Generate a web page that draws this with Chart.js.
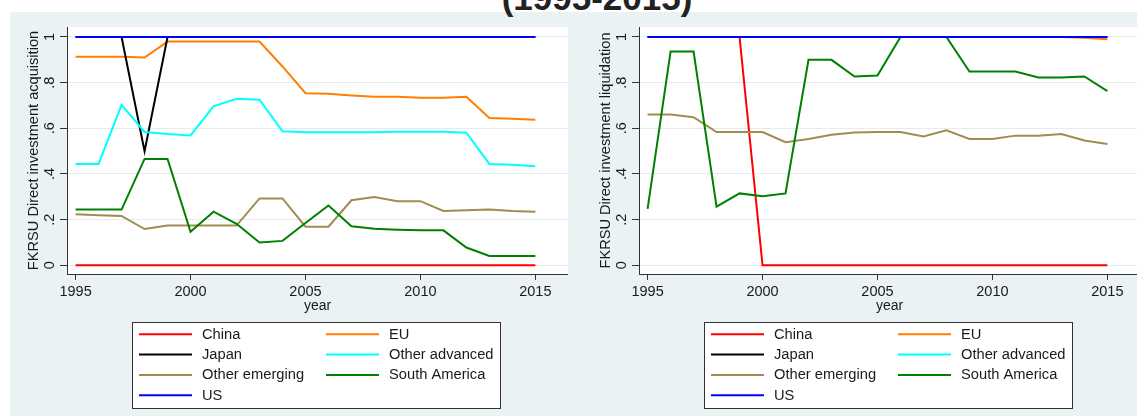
<!DOCTYPE html>
<html>
<head>
<meta charset="utf-8">
<script src="https://cdn.jsdelivr.net/npm/chart.js@4.4.1/dist/chart.umd.min.js"></script>
<style>
  html, body { margin: 0; padding: 0; width: 1137px; height: 416px; overflow: hidden; background: #ffffff; }
  #frame { position: absolute; left: 10px; top: 12px; right: 0; bottom: 0; background: #eaf2f3; }
  #title { position: absolute; left: 0; top: -20px; width: 1194px; text-align: center;
           font: bold 35px "Liberation Sans", Arial, sans-serif; line-height: 35px; color: #222; white-space: nowrap; }
  canvas { position: absolute; top: 12px; }
  #acq { left: 10px; }
  #liq { left: 582px; }
</style>
</head>
<body>
<div id="frame"></div>
<div id="title">(1995-2015)</div>
<canvas id="acq" width="558" height="404"></canvas>
<canvas id="liq" width="558" height="404"></canvas>
<script>
// Years on the horizontal axis
const years = [1995, 1996, 1997, 1998, 1999, 2000, 2001, 2002, 2003, 2004, 2005,
               2006, 2007, 2008, 2009, 2010, 2011, 2012, 2013, 2014, 2015];

// Series names (legend order)
const regions = ["China", "EU", "Japan", "Other advanced", "Other emerging", "South America", "US"];

// Tick values and labels
const xTickValues = [1995, 2000, 2005, 2010, 2015];
const yTickValues = [0, 0.2, 0.4, 0.6, 0.8, 1];
const yTickLabels = ["0", ".2", ".4", ".6", ".8", "1"];

// Direct investment acquisition
const chinaAcq   = [0, 0, 0, 0, 0, 0, 0, 0, 0, 0, 0, 0, 0, 0, 0, 0, 0, 0, 0, 0, 0];
const euAcq      = [0.914, 0.914, 0.914, 0.910, 0.980, 0.980, 0.980, 0.980, 0.980, 0.871, 0.754,
                    0.751, 0.744, 0.738, 0.738, 0.734, 0.734, 0.738, 0.645, 0.642, 0.638];
const japanAcq   = [1, 1, 1, 0.5, 1, 1, 1, 1, 1, 1, 1, 1, 1, 1, 1, 1, 1, 1, 1, 1, 1];
const othAdvAcq  = [0.444, 0.444, 0.703, 0.584, 0.575, 0.569, 0.696, 0.729, 0.725, 0.587, 0.583,
                    0.583, 0.583, 0.583, 0.585, 0.585, 0.585, 0.581, 0.444, 0.440, 0.434];
const othEmAcq   = [0.224, 0.219, 0.216, 0.159, 0.174, 0.174, 0.174, 0.174, 0.293, 0.293, 0.169,
                    0.169, 0.285, 0.299, 0.281, 0.281, 0.238, 0.241, 0.244, 0.238, 0.235];
const southAmAcq = [0.244, 0.244, 0.244, 0.466, 0.466, 0.147, 0.235, 0.182, 0.100, 0.107, 0.185,
                    0.262, 0.171, 0.160, 0.156, 0.153, 0.153, 0.078, 0.041, 0.041, 0.041];
const usAcq      = [1, 1, 1, 1, 1, 1, 1, 1, 1, 1, 1, 1, 1, 1, 1, 1, 1, 1, 1, 1, 1];

// Direct investment liquidation
const chinaLiq   = [1, 1, 1, 1, 1, 0, 0, 0, 0, 0, 0, 0, 0, 0, 0, 0, 0, 0, 0, 0, 0];
const euLiq      = [1, 1, 1, 1, 1, 1, 1, 1, 1, 1, 1, 1, 1, 1, 1, 1, 1, 1, 1, 0.997, 0.990];
const japanLiq   = [1, 1, 1, 1, 1, 1, 1, 1, 1, 1, 1, 1, 1, 1, 1, 1, 1, 1, 1, 1, 1];
const othAdvLiq  = [1, 1, 1, 1, 1, 1, 1, 1, 1, 1, 1, 1, 1, 1, 1, 1, 1, 1, 1, 1, 1];
const othEmLiq   = [0.660, 0.660, 0.649, 0.584, 0.584, 0.584, 0.539, 0.553, 0.572, 0.582, 0.584,
                    0.584, 0.564, 0.591, 0.553, 0.553, 0.568, 0.568, 0.575, 0.547, 0.531];
const southAmLiq = [0.247, 0.936, 0.936, 0.257, 0.315, 0.303, 0.315, 0.900, 0.900, 0.827, 0.831,
                    1, 1, 1, 0.849, 0.849, 0.849, 0.823, 0.823, 0.827, 0.763];
const usLiq      = [1, 1, 1, 1, 1, 1, 1, 1, 1, 1, 1, 1, 1, 1, 1, 1, 1, 1, 1, 1, 1];

const colors = ["#ff0000", "#ff7f00", "#000000", "#00ffff", "#a08c50", "#008000", "#0000ff"];
const FONT = '"Liberation Sans", Arial, sans-serif';
const TEXT = "#1a1a1a";
const AXIS = "#333333";

function buildDatasets(seriesList) {
  return seriesList.map((vals, i) => ({
    label: regions[i],
    data: vals.map((v, k) => ({ x: years[k], y: v })),
    borderColor: colors[i],
    backgroundColor: colors[i],
    borderWidth: 2,
    pointRadius: 0,
    tension: 0,
    fill: false,
    order: seriesList.length - 1 - i
  }));
}

// White plotting region on the tinted background
const plotBackground = {
  id: "plotBackground",
  beforeDraw(chart) {
    const { ctx, chartArea: a } = chart;
    ctx.save();
    ctx.fillStyle = "#ffffff";
    ctx.fillRect(a.left, a.top, a.right - a.left, a.bottom - a.top);
    ctx.restore();
  }
};

// Two-column boxed legend below the axis
const boxLegend = {
  id: "boxLegend",
  afterDraw(chart, args, o) {
    const ctx = chart.ctx;
    ctx.save();
    ctx.fillStyle = "#ffffff";
    ctx.fillRect(o.x, o.y, o.w, o.h);
    ctx.strokeStyle = AXIS;
    ctx.lineWidth = 1;
    ctx.strokeRect(o.x + 0.5, o.y + 0.5, o.w, o.h);
    ctx.font = o.fontSize + "px " + FONT;
    ctx.textBaseline = "middle";
    ctx.textAlign = "left";
    chart.data.datasets.forEach((ds, i) => {
      const col = i % 2, row = Math.floor(i / 2);
      const cy = o.firstRow + row * o.rowStep;
      ctx.strokeStyle = ds.borderColor;
      ctx.lineWidth = 2;
      ctx.beginPath();
      ctx.moveTo(o.sampleX[col], cy);
      ctx.lineTo(o.sampleX[col] + o.sampleLen, cy);
      ctx.stroke();
      ctx.fillStyle = TEXT;
      ctx.fillText(ds.label, o.textX[col], cy + 0.5);
    });
    ctx.restore();
  }
};

function makeChart(canvasId, seriesList, yTitle) {
  return new Chart(document.getElementById(canvasId), {
    type: "line",
    data: { datasets: buildDatasets(seriesList) },
    plugins: [plotBackground, boxLegend],
    options: {
      responsive: false,
      animation: false,
      devicePixelRatio: 1,
      layout: { padding: { top: 15, right: 0, bottom: 101.6, left: 0 } },
      plugins: {
        legend: { display: false },
        tooltip: { enabled: false },
        boxLegend: {
          x: 122, y: 310, w: 368, h: 86,
          firstRow: 322.3, rowStep: 20.3,
          sampleX: [129, 316], sampleLen: 53,
          textX: [192, 379], fontSize: 14.7
        }
      },
      scales: {
        x: {
          type: "linear",
          min: 1994.626,
          max: 2016.42,
          afterBuildTicks: s => { s.ticks = xTickValues.map(v => ({ value: v })); },
          afterFit: s => { s.height = 40.4; },
          ticks: {
            autoSkip: false, minRotation: 0, maxRotation: 0, padding: 3,
            color: TEXT, font: { family: FONT, size: 14.5 },
            callback: v => String(v)
          },
          grid: { drawOnChartArea: false, tickColor: AXIS, tickLength: 6 },
          border: { color: AXIS, width: 1 },
          title: { display: true, text: "year", color: TEXT, padding: 0,
                   font: { family: FONT, size: 14 } }
        },
        y: {
          type: "linear",
          min: -0.0381,
          max: 1.0438,
          afterBuildTicks: s => { s.ticks = yTickValues.map(v => ({ value: v })); },
          afterFit: s => { s.width = 57; },
          ticks: {
            minRotation: 90, maxRotation: 90, crossAlign: "center", padding: 4,
            color: TEXT, font: { family: FONT, size: 14.5 },
            callback: v => yTickLabels[yTickValues.indexOf(v)]
          },
          grid: { color: "#e3ecee", lineWidth: 1, tickColor: AXIS, tickLength: 7 },
          border: { color: AXIS, width: 1 },
          title: { display: true, text: yTitle, color: TEXT, padding: { top: 15, bottom: 0 },
                   font: { family: FONT, size: 14.6 } }
        }
      }
    }
  });
}

makeChart("acq",
  [chinaAcq, euAcq, japanAcq, othAdvAcq, othEmAcq, southAmAcq, usAcq],
  "FKRSU Direct investment acquisition");
makeChart("liq",
  [chinaLiq, euLiq, japanLiq, othAdvLiq, othEmLiq, southAmLiq, usLiq],
  "FKRSU Direct investment liquidation");
</script>
</body>
</html>
